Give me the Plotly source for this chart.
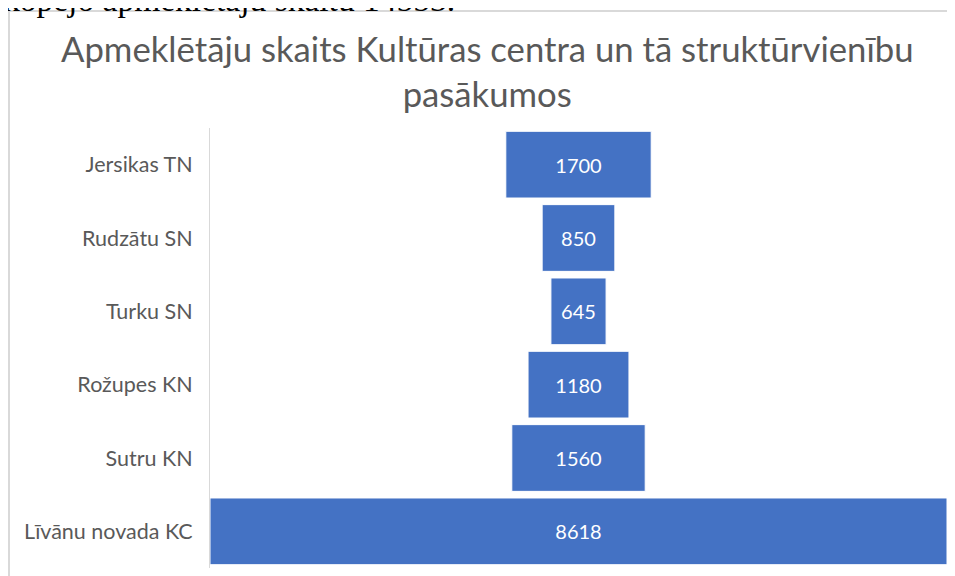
import plotly.graph_objects as go

# data (top to bottom)
categories = ["Jersikas TN", "Rudzātu SN", "Turku SN", "Rožupes KN", "Sutru KN", "Līvānu novada KC"]
visitors = [1700, 850, 645, 1180, 1560, 8618]

title_text = "Apmeklētāju skaits Kultūras centra un tā struktūrvienību<br>pasākumos"
page_text = "kopējo apmeklētāju skaitu 14553."

# the page body adds an 8px margin, so the figure is 8px smaller each way
W, H = 947, 568
L, R, T, B = 202, 8, 120, 8          # plot area in figure pixels
pw, ph = W - L - R, H - T - B


def px_x(p):
    return (p - L) / pw


def px_y(p):
    return (H - B - p) / ph


fig = go.Figure()

fig.add_trace(go.Funnel(
    y=categories,
    x=visitors,
    textinfo="value",
    textposition="inside",
    insidetextanchor="middle",
    constraintext="none",
    textfont=dict(family="Lato", size=20, color="white"),
    marker=dict(color="#4472C4", line=dict(color="white", width=1)),
    connector=dict(visible=False),
    hoverinfo="y+x",
))

half = max(visitors) / 2
fig.update_layout(
    width=W, height=H,
    margin=dict(l=L, r=R, t=T, b=B),
    paper_bgcolor="white",
    plot_bgcolor="white",
    showlegend=False,
    funnelgap=0.09,
    font=dict(family="Lato", color="#595959"),
    xaxis=dict(range=[-half, half], visible=False, fixedrange=True),
    yaxis=dict(
        showline=True, linecolor="#D9D9D9", linewidth=1,
        ticks="outside", ticklen=0, tickfont=dict(size=21.5, color="#595959"),
        ticklabelstandoff=12, showgrid=False,
    ),
    shapes=[
        # chart frame (left and top edges; rest runs off the page)
        dict(type="line", xref="paper", yref="paper",
             x0=px_x(1), x1=px_x(1), y0=px_y(3), y1=px_y(H + 5),
             line=dict(color="#D9D9D9", width=2)),
        dict(type="line", xref="paper", yref="paper",
             x0=px_x(1), x1=px_x(W + 5), y0=px_y(3), y1=px_y(3),
             line=dict(color="#D9D9D9", width=2)),
    ],
    annotations=[
        dict(text=title_text, xref="paper", yref="paper",
             x=px_x(479), y=px_y(63), xanchor="center", yanchor="middle",
             showarrow=False, font=dict(family="Lato", size=34.7, color="#595959")),
        dict(text=page_text, xref="paper", yref="paper",
             x=px_x(-7), y=px_y(12), xanchor="left", yanchor="bottom",
             showarrow=False, font=dict(family="Liberation Serif", size=33.5, color="black")),
    ],
)

fig.write_html("out.html")
